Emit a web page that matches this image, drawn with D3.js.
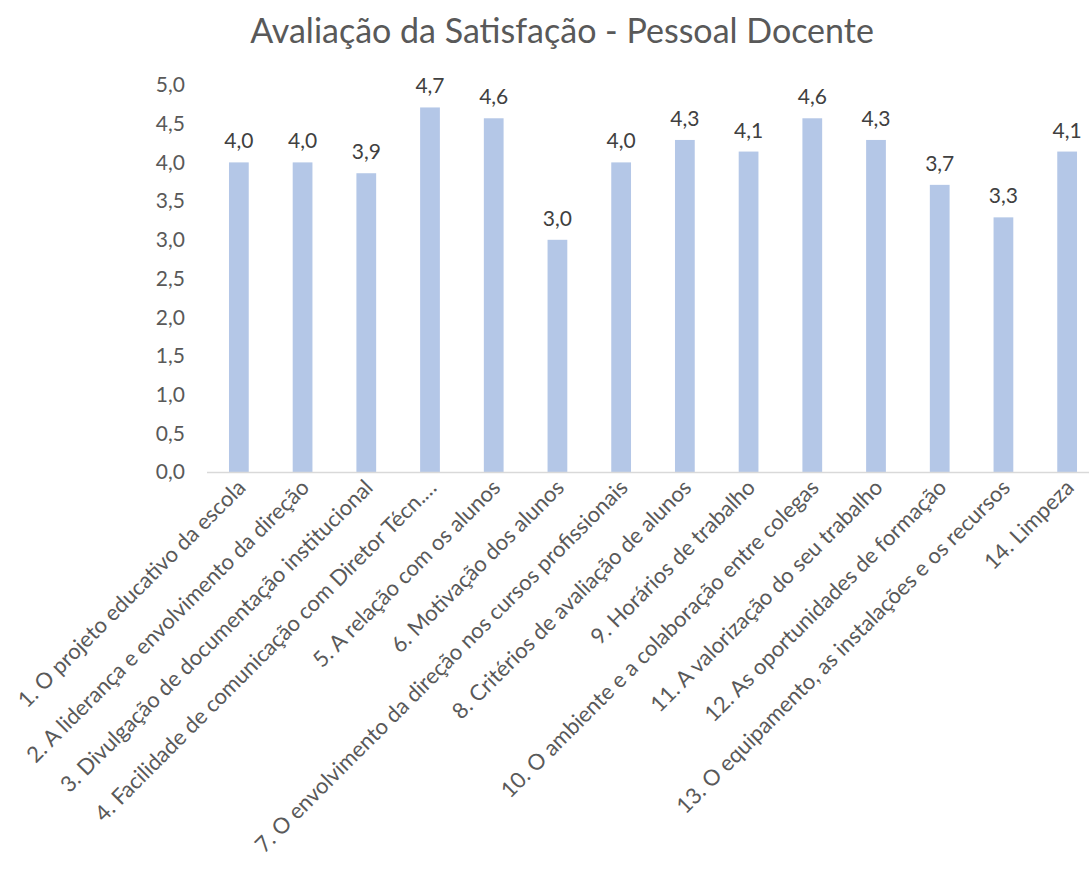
<!DOCTYPE html>
<html>
<head>
<meta charset="utf-8">
<script src="https://cdn.jsdelivr.net/npm/d3@7"></script>
<style>
  body { margin: 0; background: #fff; }
  svg text { font-family: Lato, "Open Sans", sans-serif; }
</style>
</head>
<body>
<svg id="chart" width="1089" height="871"></svg>
<script>
const title = 'Avaliação da Satisfação - Pessoal Docente';
const categories = [
    '1. O projeto educativo da escola',
    '2. A liderança e envolvimento da direção',
    '3. Divulgação de documentação institucional',
    '4. Facilidade de comunicação com Diretor Técn.…',
    '5. A relação com os alunos',
    '6. Motivação dos alunos',
    '7. O envolvimento da direção nos cursos profissionais',
    '8. Critérios de avaliação de alunos',
    '9. Horários de trabalho',
    '10. O ambiente e a colaboração entre colegas',
    '11. A valorização do seu trabalho',
    '12. As oportunidades de formação',
    '13. O equipamento, as instalações e os recursos',
    '14. Limpeza'
];
const values = [4.0, 4.0, 3.86, 4.71, 4.57, 3.0, 4.0, 4.29, 4.14, 4.57, 4.29, 3.71, 3.29, 4.14];
const yTicks = [0, 0.5, 1, 1.5, 2, 2.5, 3, 3.5, 4, 4.5, 5];

const fmt = v => d3.format('.1f')(v).replace('.', ',');

const svg = d3.select('#chart');
const plotLeft = 207, plotRight = 1099, plotTop = 85, plotBottom = 472;

const x = d3.scaleBand().domain(categories).range([plotLeft, plotRight]).paddingInner(0.69).paddingOuter(0.345);
const y = d3.scaleLinear().domain([0, 5]).range([plotBottom, plotTop]);

svg.append('text')
    .attr('x', 562).attr('y', 43)
    .attr('text-anchor', 'middle')
    .attr('font-size', 34)
    .attr('fill', '#595959')
    .text(title);

// y axis labels
svg.append('g')
    .selectAll('text')
    .data(yTicks)
    .enter()
    .append('text')
    .attr('x', 185)
    .attr('y', d => y(d))
    .attr('dy', '0.35em')
    .attr('text-anchor', 'end')
    .attr('font-size', 21)
    .attr('fill', '#595959')
    .text(fmt);

// bars
svg.append('g')
    .selectAll('rect')
    .data(values)
    .enter()
    .append('rect')
    .attr('x', (d, i) => x(categories[i]))
    .attr('width', x.bandwidth())
    .attr('y', d => y(d))
    .attr('height', d => y(0) - y(d))
    .attr('fill', '#B4C7E7');

// baseline
svg.append('line')
    .attr('x1', plotLeft).attr('x2', plotRight)
    .attr('y1', y(0) + 0.5).attr('y2', y(0) + 0.5)
    .attr('stroke', '#D9D9D9')
    .attr('stroke-width', 1.5);

// data labels
svg.append('g')
    .selectAll('text')
    .data(values)
    .enter()
    .append('text')
    .attr('x', (d, i) => x(categories[i]) + x.bandwidth() / 2)
    .attr('y', d => y(d) - 14)
    .attr('text-anchor', 'middle')
    .attr('font-size', 21)
    .attr('fill', '#404040')
    .text(fmt);

// category labels
svg.append('g')
    .selectAll('text')
    .data(categories)
    .enter()
    .append('text')
    .attr('transform', d => `translate(${x(d) + x.bandwidth() / 2 + 8}, ${plotBottom + 17}) rotate(-45)`)
    .attr('text-anchor', 'end')
    .attr('font-size', 22)
    .attr('fill', '#595959')
    .text(d => d);
</script>
</body>
</html>
